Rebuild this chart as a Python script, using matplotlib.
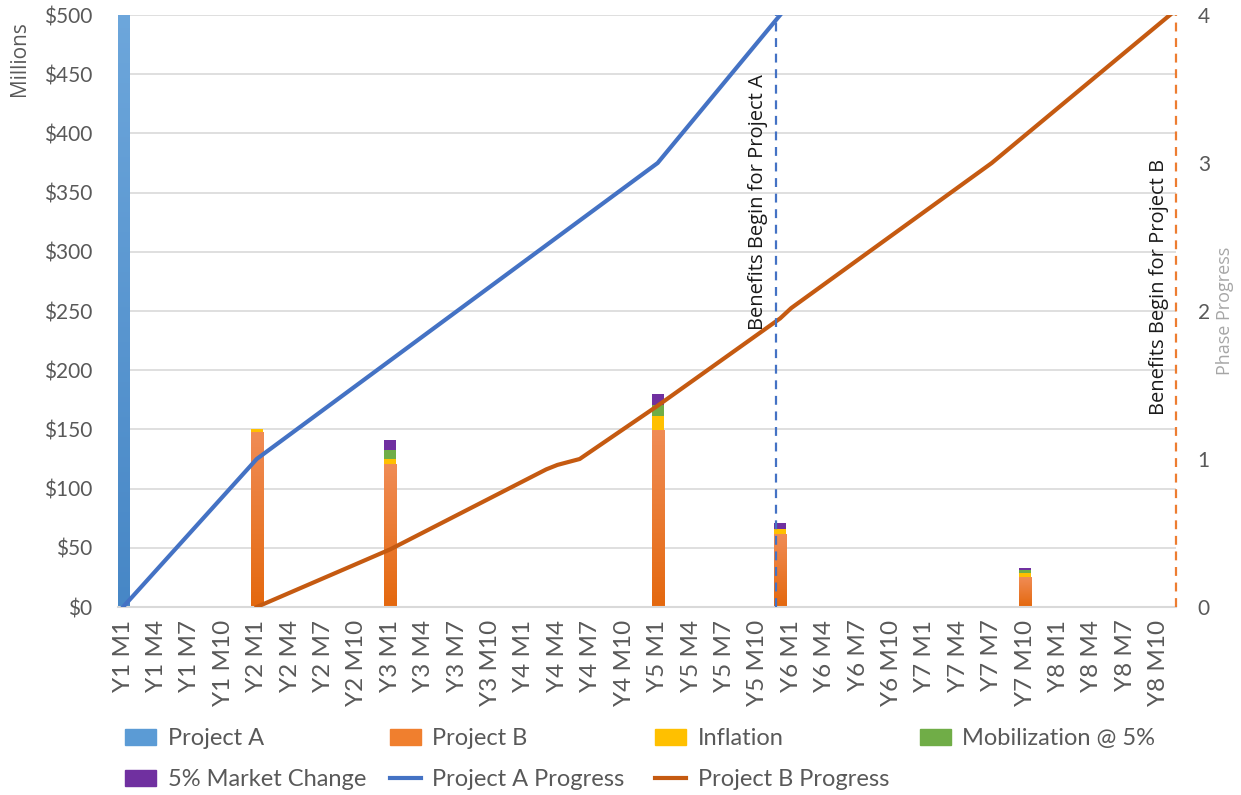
import matplotlib
matplotlib.use("Agg")
import matplotlib.pyplot as plt
import numpy as np
from matplotlib.patches import Patch
from matplotlib.lines import Line2D
from matplotlib.colors import LinearSegmentedColormap

# months Y1 M1 .. Y8 M11 (category axis)
months = ["Y%d M%d" % (y, m) for y in range(1, 9) for m in range(1, 13)][:95]

# stacked cost bars ($ millions)
bar_months = ["Y1 M1", "Y2 M1", "Y3 M1", "Y5 M1", "Y5 M12", "Y7 M10"]
project_a = [540, 0, 0, 0, 0, 0]
project_b = [0, 147, 120, 149, 61, 25]
inflation = [0, 3, 5, 12, 5, 4]
mobilization = [0, 0, 8, 10, 0, 2]
market_change = [0, 0, 8, 9, 5, 2]

# phase progress lines (right axis)
prog_a_months = ["Y1 M1", "Y2 M1", "Y5 M1", "Y5 M12"]
prog_a = [0, 1, 3, 4]
prog_b_months = ["Y2 M1", "Y3 M1", "Y4 M3", "Y4 M4", "Y4 M6", "Y5 M1",
                 "Y5 M12", "Y6 M1", "Y7 M7", "Y8 M11"]
prog_b = [0, 0.39, 0.93, 0.96, 1.0, 1.36, 1.95, 2.02, 3.0, 4.0]

# where benefits begin (category position)
benefit_a_x = 58.6
benefit_b_x = 94.5

c_a = "#5B9BD5"
c_b = "#F07F2E"
c_infl = "#FFC000"
c_mob = "#70AD47"
c_mkt = "#7030A0"
c_prog_a = "#4472C4"
c_prog_b = "#C55A11"
grey = "#595959"

# excel-like gradient fills (bottom, top)
grad = {c_a: ("#4787C6", "#70A9DD"), c_b: ("#E4680E", "#F08C55")}


def gradient_fill(ax, bars, col):
    lo, hi = grad[col]
    cmap = LinearSegmentedColormap.from_list("g", [lo, hi])
    ramp = np.linspace(0, 1, 128).reshape(-1, 1)
    for r in bars:
        if r.get_height() <= 0:
            continue
        x, y = r.get_x(), r.get_y()
        im = ax.imshow(ramp, extent=[x, x + r.get_width(), y, y + r.get_height()],
                       origin="lower", aspect="auto", cmap=cmap, zorder=2.1)
        im.set_clip_path(r)
        im.set_clip_box(ax.bbox)


fig = plt.figure(figsize=(12.41, 7.95), dpi=100)
ax = fig.add_axes([117.5 / 1241, 1 - 607 / 795, 1058 / 1241, 592 / 795])

idx = {m: i for i, m in enumerate(months)}
bx = np.array([idx[m] for m in bar_months])
w = 1.1
bottom = np.zeros(len(bx))
for vals, col in [(project_a, c_a), (project_b, c_b), (inflation, c_infl),
                  (mobilization, c_mob), (market_change, c_mkt)]:
    vals = np.array(vals, dtype=float)
    bars = ax.bar(bx, vals, width=w, bottom=bottom, color=col, zorder=2)
    if col in grad:
        gradient_fill(ax, bars, col)
    bottom += vals

ax.set_xlim(-0.5, 94.5)
ax.set_ylim(0, 500)
ax.set_yticks(np.arange(0, 501, 50))
ax.set_yticklabels(["$%d" % v for v in range(0, 501, 50)])
ax.set_xticks(range(0, 95, 3))
ax.set_xticklabels(months[::3], rotation=90)
ax.grid(axis="y", color="#D9D9D9", lw=1.2, zorder=0)
ax.set_axisbelow(True)
for s in ["left", "right", "top"]:
    ax.spines[s].set_visible(False)
ax.spines["bottom"].set_color("#D9D9D9")
ax.spines["bottom"].set_linewidth(1.5)
ax.tick_params(axis="both", length=0, colors=grey)
ax.tick_params(axis="y", pad=18, labelsize=15)
ax.tick_params(axis="x", pad=9, labelsize=17.5)
for t in ax.get_xticklabels() + ax.get_yticklabels():
    t.set_fontfamily("Lato")

ax2 = ax.twinx()
ax2.set_ylim(0, 4)
ax2.set_yticks([0, 1, 2, 3, 4])
for s in ["left", "right", "top", "bottom"]:
    ax2.spines[s].set_visible(False)
ax2.tick_params(axis="y", length=0, colors=grey, labelsize=15, pad=16)
for t in ax2.get_yticklabels():
    t.set_fontfamily("Lato")

ax2.plot([idx[m] for m in prog_a_months], prog_a, color=c_prog_a, lw=3, zorder=3)
ax2.plot([idx[m] for m in prog_b_months], prog_b, color=c_prog_b, lw=3, zorder=3)

ax2.axvline(benefit_a_x, color=c_prog_a, lw=1.6, ls=(0, (4, 3)), zorder=4)
ax2.axvline(benefit_b_x, color="#ED7D31", lw=1.6, ls=(0, (4, 3)), zorder=4, clip_on=False)
ax2.text(benefit_a_x - 1.6, 1.87, "Benefits Begin for Project A", rotation=90,
         ha="center", va="bottom", fontsize=14.5, family="Open Sans", color="#1a1a1a")
ax2.text(benefit_b_x - 1.5, 1.30, "Benefits Begin for Project B", rotation=90,
         ha="center", va="bottom", fontsize=14.5, family="Open Sans", color="#1a1a1a")

fig.text(20 / 1241, 1 - 59 / 795, "Millions", rotation=90, ha="center", va="center",
         fontsize=15, family="Open Sans", color=grey)
fig.text(1225 / 1241, 1 - 311 / 795, "Phase Progress", rotation=90, ha="center",
         va="center", fontsize=13, family="Open Sans", color="#A6A6A6")

# legend: four equal-width columns like excel
h = {
    "Project A": Patch(color=c_a),
    "Project B": Patch(color=c_b),
    "Inflation": Patch(color=c_infl),
    "Mobilization @ 5%": Patch(color=c_mob),
    "5% Market Change": Patch(color=c_mkt),
    "Project A Progress": Line2D([], [], color=c_prog_a, lw=3),
    "Project B Progress": Line2D([], [], color=c_prog_b, lw=3),
}
columns = [["Project A", "5% Market Change"], ["Project B", "Project A Progress"],
           ["Inflation", "Project B Progress"], ["Mobilization @ 5%"]]
col_x = [125, 390, 655, 920]
for names, x in zip(columns, col_x):
    fig.legend([h[k] for k in names], names, loc="upper left",
               bbox_to_anchor=(x / 1241, 1 - 728 / 795), frameon=False,
               prop={"family": "Lato", "size": 17}, borderpad=0, borderaxespad=0,
               handlelength=1.3, handleheight=0.65, handletextpad=0.5,
               labelspacing=0.85, labelcolor=grey)

fig.savefig("out.png", dpi=100)
